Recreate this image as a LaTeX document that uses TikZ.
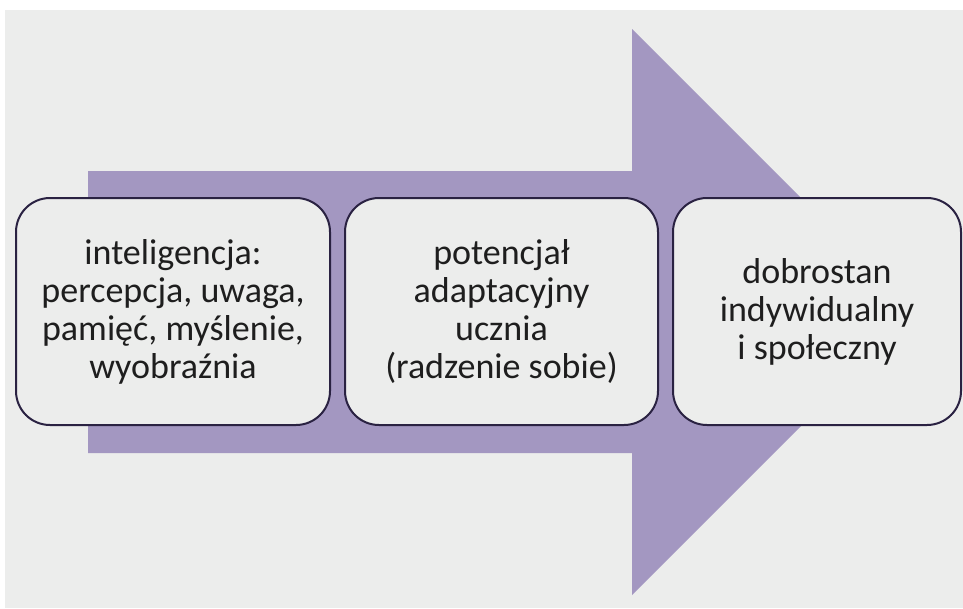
\documentclass[tikz,border=0pt]{standalone}
\usepackage{fontspec}
\setmainfont{Carlito}
\usetikzlibrary{positioning}
\definecolor{panelgray}{HTML}{ECEDEC}
\definecolor{arrowpurple}{HTML}{A397C1}
\definecolor{boxline}{HTML}{2A2242}
\definecolor{textblack}{HTML}{1E1E1E}

\begin{document}
\begin{tikzpicture}[
        x=1pt, y=-1pt,
        box/.style={draw=boxline, line width=2pt, fill=panelgray, rounded corners=34pt,
            minimum height=227pt, align=center, text=textblack, inner sep=0pt,
            font=\fontsize{36}{38}\selectfont}
    ]
    \useasboundingbox (0,0) rectangle (963,608);
    \fill[panelgray] (5,10) rectangle (963,608);
    % the big arrow behind the boxes
    \coordinate (S1) at (88,171);
    \coordinate (S2) at (632,171);
    \coordinate (H1) at (632,29);
    \coordinate (T) at (915,312);
    \coordinate (H2) at (632,595);
    \coordinate (S3) at (632,453);
    \coordinate (S4) at (88,453);
    \fill[arrowpurple] (S1)--(S2)--(H1)--(T)--(H2)--(S3)--(S4)--cycle;
    \node[box, minimum width=314pt] (intel) at (173,311.5)
        {inteligencja:\\percepcja, uwaga,\\pamięć, myślenie,\\wyobraźnia};
    \node[box, minimum width=313pt, right=13pt of intel] (potenc)
        {potencjał\\adaptacyjny\\ucznia\\(radzenie sobie)};
    \node[box, minimum width=288pt, right=13pt of potenc] (dobro)
        {dobrostan\\indywidualny\\i społeczny};
\end{tikzpicture}
\end{document}
